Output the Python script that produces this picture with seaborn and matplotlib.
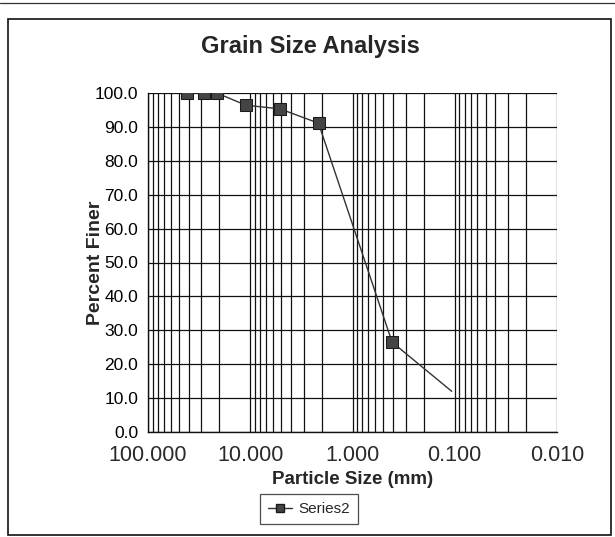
import matplotlib
matplotlib.use("Agg")
import matplotlib.pyplot as plt
import numpy as np
import pandas as pd
import seaborn as sns
from matplotlib.lines import Line2D
from matplotlib.patches import Rectangle
from matplotlib.ticker import FixedLocator, FixedFormatter, NullLocator

# Sieve analysis results
particle_size_mm = [42.0, 28.5, 21.3, 11.0, 5.1, 2.15, 0.41, 0.107]
percent_finer = [100.0, 100.0, 100.0, 96.4, 95.3, 91.1, 26.5, 12.0]
series_name = "Series2"

x_tick_values = [100, 10, 1, 0.1, 0.01]
x_tick_labels = ["100.000", "10.000", "1.000", "0.100", "0.010"]
y_tick_values = [0, 10, 20, 30, 40, 50, 60, 70, 80, 90, 100]
y_tick_labels = ["0.0", "10.0", "20.0", "30.0", "40.0", "50.0",
                 "60.0", "70.0", "80.0", "90.0", "100.0"]

sns.set_theme(style="white")
plt.rcParams["font.family"] = ["Liberation Sans", "DejaVu Sans"]

W, H = 615, 537
fig = plt.figure(figsize=(W / 100, H / 100), dpi=100)
fig.patch.set_facecolor("white")


def px(x0, y0, x1, y1):
    """Figure rectangle from pixel corners (top-left origin)."""
    return [x0 / W, 1 - y1 / H, (x1 - x0) / W, (y1 - y0) / H]


ax = fig.add_axes(px(148, 93, 557, 432))

df = pd.DataFrame({"size": particle_size_mm, "finer": percent_finer})
sns.lineplot(data=df, x="size", y="finer", ax=ax, sort=False,
             color="#333333", linewidth=1.0, marker="s", markersize=9,
             markerfacecolor="#444444", markeredgecolor="#1a1a1a",
             markevery=list(range(len(df) - 1)), legend=False)

ax.set_xscale("log")
ax.set_xlim(100, 0.01)
ax.set_ylim(0, 100)

# log grid: every 1..9 x 10^k, plus horizontal lines every 10 %
minor_grid = [m * 10.0 ** k for k in range(-2, 2) for m in range(1, 10)] + [100]
for v in minor_grid:
    ax.axvline(v, color="#111111", linewidth=0.9, zorder=0.5)
for v in y_tick_values:
    ax.axhline(v, color="#111111", linewidth=0.9, zorder=0.5)

ax.xaxis.set_major_locator(FixedLocator(x_tick_values))
ax.xaxis.set_major_formatter(FixedFormatter(x_tick_labels))
ax.xaxis.set_minor_locator(NullLocator())
ax.yaxis.set_major_locator(FixedLocator(y_tick_values))
ax.yaxis.set_major_formatter(FixedFormatter(y_tick_labels))

ax.tick_params(axis="both", direction="inout", length=9, width=0.9,
               color="#111111", labelcolor="black")
ax.tick_params(axis="y", pad=2.5, labelsize=12.5)
ax.tick_params(axis="x", pad=5, labelsize=15.5, labelcolor="#2a2a2a")

for side in ["left", "bottom"]:
    ax.spines[side].set_color("#111111")
    ax.spines[side].set_linewidth(1.0)
for side in ["top", "right"]:
    ax.spines[side].set_visible(False)

ax.set_xlabel("Particle Size (mm)", fontsize=13.5, fontweight="bold")
ax.set_ylabel("Percent Finer", fontsize=14, fontweight="bold")
ax.xaxis.set_label_coords(0.5, -0.115)
ax.yaxis.set_label_coords(-0.108, 0.5)

fig.text(310 / W, 1 - 47 / H, "Grain Size Analysis", ha="center",
         va="center", fontsize=17, fontweight="bold")

handle = Line2D([], [], color="#333333", linewidth=1.0, marker="s",
                markersize=6, markerfacecolor="#444444",
                markeredgecolor="#1a1a1a")
leg = fig.legend([handle], [series_name], loc="center",
                 bbox_to_anchor=(309 / W, 1 - 509 / H), fontsize=11,
                 frameon=True, fancybox=False, edgecolor="#222222",
                 handlelength=1.6, handletextpad=0.4, borderpad=0.55)
leg.get_frame().set_linewidth(0.9)

# chart-area border and page edge
fig.add_artist(Rectangle((8 / W, 1 - 535 / H), (611 - 8) / W, (535 - 19) / H,
                         transform=fig.transFigure, fill=False,
                         edgecolor="#111111", linewidth=1.2))
fig.add_artist(Line2D([0, 1], [1 - 3 / H, 1 - 3 / H], transform=fig.transFigure,
                      color="#333333", linewidth=0.9))

fig.savefig("out.png", dpi=100)
